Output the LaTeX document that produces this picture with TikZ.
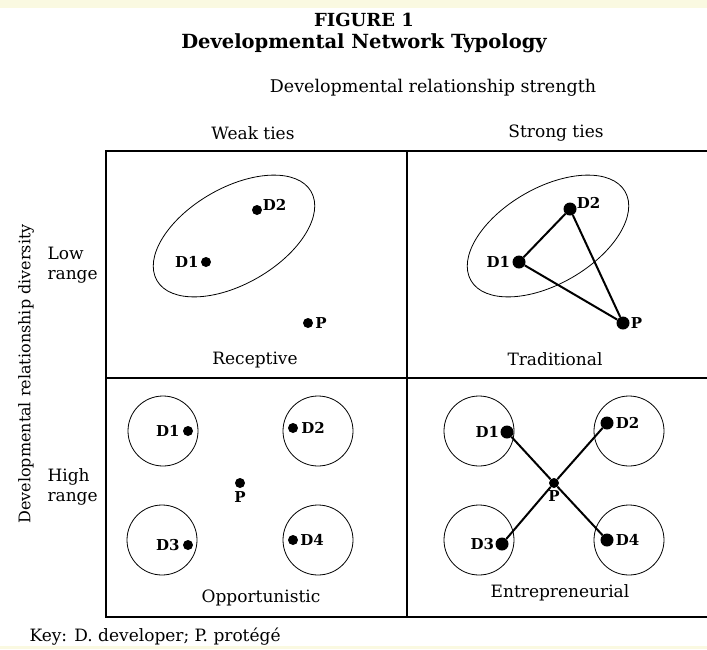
\documentclass[tikz,border=0pt]{standalone}
\usepackage{fontspec}
\setmainfont{DejaVu Serif}
\usetikzlibrary{positioning}
\definecolor{paper}{RGB}{250,249,225}

\begin{document}
\begin{tikzpicture}[x=1pt, y=-1pt, node distance=1pt,
    dev node/.style={circle, fill, inner sep=0pt, minimum size=10pt},
    big node/.style={circle, fill, inner sep=0pt, minimum size=13pt},
    ring/.style={circle, draw, line width=0.8pt, minimum size=70pt},
    dev label/.style={font=\fontsize{15}{17}\selectfont\bfseries, inner sep=1pt},
    frame/.style={line width=1.3pt}]
  \tikzstyle{every node}=[font=\fontsize{17}{20}\selectfont]

  \useasboundingbox (0,0) rectangle (707,649);
  \fill[paper] (0,0) rectangle (707,8);
  \fill[paper] (0,646) rectangle (707,649);

  % headings
  \node[font=\fontsize{18}{20}\selectfont\bfseries] (fig) at (364,20) {FIGURE 1};
  \node[font=\fontsize{19.5}{22}\selectfont\bfseries] (title) at (364,43) {Developmental Network Typology};
  \node[font=\fontsize{17.5}{20}\selectfont] (strength) at (433,88) {Developmental relationship strength};
  \node (weak) at (253,133) {Weak ties};
  \node (strong) at (556,133) {Strong ties};
  \node[rotate=90, font=\fontsize{16}{19}\selectfont] (diversity) at (26,374) {Developmental relationship diversity};
  \node[align=left, anchor=west] (low) at (44,265) {Low\\range};
  \node[align=left, anchor=west] (high) at (44,487) {High\\range};

  % frame
  \draw[frame] (707,151) -- (106,151) -- (106,617) -- (707,617);
  \draw[frame] (106,378) -- (707,378);
  \draw[frame] (407,151) -- (407,617);

  % receptive
  \draw[line width=0.8pt, rotate around={30:(234,236)}] (234,236) ellipse [x radius=89pt, y radius=48pt];
  \node[dev node] (rD1) at (206,262) {};
  \node[dev node] (rD2) at (257,210) {};
  \node[dev node] (rP) at (308,323) {};
  \node[dev label, left=of rD1] {D1};
  \node[dev label, above right=-5pt and 1pt of rD2] {D2};
  \node[dev label, right=of rP] {P};
  \node (receptive) at (255,360) {Receptive};

  % traditional
  \draw[line width=0.8pt, rotate around={30:(548,236)}] (548,236) ellipse [x radius=89pt, y radius=48pt];
  \node[big node] (tD1) at (519,262) {};
  \node[big node] (tD2) at (570,209) {};
  \node[big node] (tP) at (623,323) {};
  \node[dev label, left=of tD1] {D1};
  \node[dev label, above right=-5pt and 1pt of tD2] {D2};
  \node[dev label, right=0pt of tP] {P};
  \path[draw, line width=2pt]
    (tD1) edge (tD2)
          edge (tP)
    (tD2) edge (tP);
  \node (traditional) at (555,359) {Traditional};

  % opportunistic
  \node[ring] (oR1) at (163,431) {};
  \node[ring] (oR2) at (318,431) {};
  \node[ring] (oR3) at (162,540) {};
  \node[ring] (oR4) at (318,540) {};
  \node[dev node] (oD1) at (188,431) {};
  \node[dev node] (oD2) at (293,428) {};
  \node[dev node] (oD3) at (188,545) {};
  \node[dev node] (oD4) at (293,540) {};
  \node[dev node] (oP) at (240,483) {};
  \node[dev label, left=2pt of oD1] {D1};
  \node[dev label, right=2pt of oD2] {D2};
  \node[dev label, left=2pt of oD3] {D3};
  \node[dev label, right=1pt of oD4] {D4};
  \node[dev label, below=2pt of oP] {P};
  \node (opportunistic) at (261,598) {Opportunistic};

  % entrepreneurial
  \node[ring] (eR1) at (479,431) {};
  \node[ring] (eR2) at (629,431) {};
  \node[ring] (eR3) at (479,540) {};
  \node[ring] (eR4) at (629,540) {};
  \node[big node] (eD1) at (507,432) {};
  \node[big node] (eD2) at (607,423) {};
  \node[big node] (eD3) at (502,544) {};
  \node[big node] (eD4) at (607,540) {};
  \node[dev node] (eP) at (554,483) {};
  \node[dev label, left=0pt of eD1] {D1};
  \node[dev label, right=1pt of eD2] {D2};
  \node[dev label, left=0pt of eD3] {D3};
  \node[dev label, right=1pt of eD4] {D4};
  \node[dev label, below=1pt of eP] {P};
  \path[draw, line width=2pt]
    (eP) edge (eD1)
         edge (eD2)
         edge (eD3)
         edge (eD4);
  \node (entrepreneurial) at (560,593) {Entrepreneurial};

  \node[anchor=west] (key) at (26,637) {Key: D. developer; P. protégé};
\end{tikzpicture}
\end{document}
